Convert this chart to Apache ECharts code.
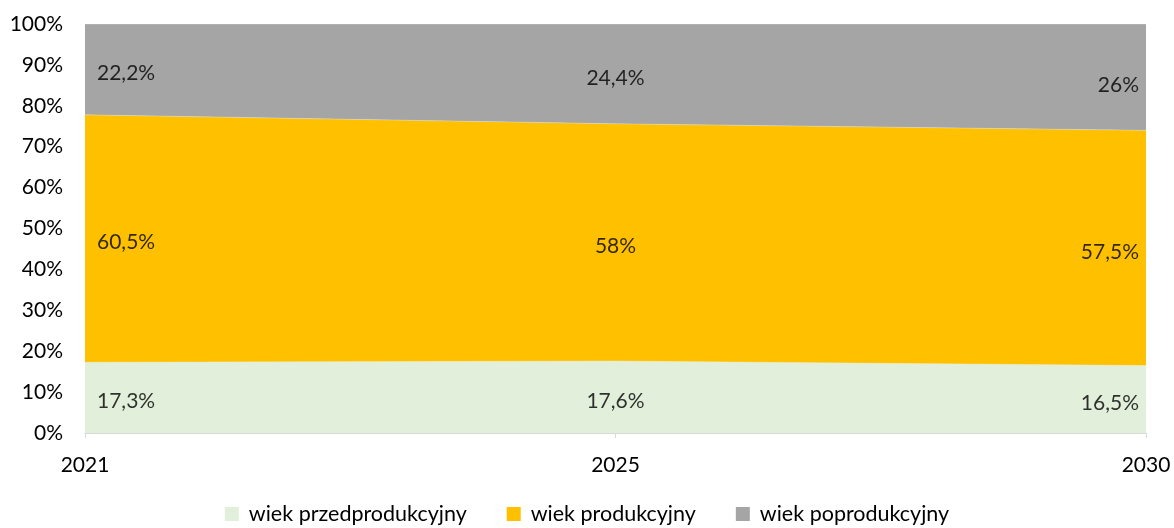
<!DOCTYPE html>
<html><head><meta charset="utf-8">
<script src="https://cdn.jsdelivr.net/npm/echarts@6/dist/echarts.min.js"></script>
<style>html,body{margin:0;padding:0;background:#fff}#c{width:1174px;height:528px}</style>
</head><body><div id="c"></div>
<script>
const categories = ['2021', '2025', '2030'];
const przed = [17.3, 17.6, 16.5];
const prod = [60.5, 58, 57.5];
const poprod = [22.2, 24.4, 26];
const seriesNames = ['wiek przedprodukcyjny', 'wiek produkcyjny', 'wiek poprodukcyjny'];
const yTicks = [0, 10, 20, 30, 40, 50, 60, 70, 80, 90, 100];

const FONT = 'Lato';
const FS = 21;
const colors = ['#E2EFDA', '#FFC000', '#A5A5A5'];
const layers = [przed, prod, poprod];

function fmt(v) { return String(v).replace('.', ','); }

const positions = ['right', 'inside', 'left'];
const labelSeries = layers.map((arr, li) => {
  return {
    type: 'scatter', symbolSize: 0, silent: true, z: 10,
    data: arr.map((v, i) => {
      let base = 0;
      for (let k = 0; k < li; k++) base += layers[k][i];
      return {
        value: base + v / 2,
        label: { show: true, position: positions[i], distance: i === 0 ? 12 : (i === 2 ? 7 : 0),
          offset: [0, (li === 2 && i === 2) ? 8 : 4],
          formatter: () => fmt(v) + '%', color: '#000', fontFamily: FONT, fontSize: FS }
      };
    })
  };
});

const areaSeries = layers.map((arr, li) => ({
  name: seriesNames[li], type: 'line', stack: 'total',
  data: arr, symbol: 'none', showSymbol: false,
  lineStyle: { width: 0.6, color: li === 0 ? colors[0] : '#e8e8e8', opacity: 0.6 },
  areaStyle: { color: colors[li], opacity: 1 },
  itemStyle: { color: colors[li] },
  emphasis: { disabled: true }
}));

const chart = echarts.init(document.getElementById('c'));
chart.setOption({
  animation: false,
  grid: { left: 85, right: 28, top: 24, bottom: 95 },
  legend: {
    top: 498, left: 'center', itemWidth: 14, itemHeight: 14, itemGap: 40,
    data: seriesNames.map((n, i) => ({ name: n, icon: 'rect', itemStyle: { color: colors[i] } })),
    textStyle: { fontFamily: FONT, fontSize: 21.5, color: '#000', padding: [0, 0, 0, 5] }
  },
  xAxis: {
    type: 'category', data: categories, boundaryGap: false,
    axisLine: { lineStyle: { color: '#D9D9D9', width: 1 } },
    axisTick: { show: true, length: 5, lineStyle: { color: '#D9D9D9' } },
    axisLabel: { color: '#000', fontFamily: FONT, fontSize: FS, margin: 22 }
  },
  yAxis: {
    type: 'value', min: 0, max: 100, interval: 10,
    axisLine: { show: false }, axisTick: { show: false }, splitLine: { show: false },
    axisLabel: { color: '#000', fontFamily: FONT, fontSize: FS, margin: 22,
      formatter: v => yTicks.includes(v) ? v + '%' : '' }
  },
  series: [...areaSeries, ...labelSeries]
});
</script></body></html>
